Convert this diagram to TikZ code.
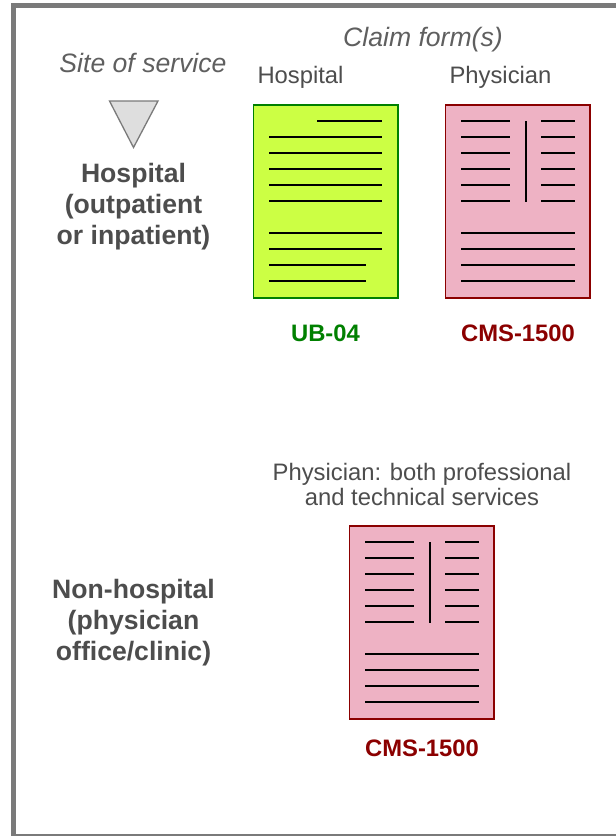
\documentclass[tikz,border=0pt]{standalone}
\usepackage{fontspec}
\setmainfont{Liberation Sans}
\definecolor{framegray}{RGB}{122,122,122}
\definecolor{txtgray}{RGB}{77,77,77}
\definecolor{italgray}{RGB}{95,95,95}
\definecolor{limefill}{RGB}{204,255,68}
\definecolor{formgreen}{RGB}{0,128,0}
\definecolor{pinkfill}{RGB}{238,178,196}
\definecolor{formred}{RGB}{139,0,0}
\tikzset{
  x=1pt,y=-1pt,
  sheet/.style={draw=#1,line width=1.6pt},
  rule/.style={draw=black,line width=1.5pt},
  head/.style={text=italgray,font=\fontsize{26.6}{30}\selectfont\itshape,inner sep=0pt,anchor=base},
  sub/.style={text=txtgray,font=\fontsize{23.8}{25}\selectfont,inner sep=0pt,align=center,anchor=base},
  site/.style={text=txtgray,font=\fontsize{26.6}{31}\selectfont\bfseries,inner sep=0pt,align=center},
  formlabel/.style={text=#1,font=\fontsize{23.8}{26}\selectfont\bfseries,inner sep=0pt,anchor=base},
  tri/.style={draw=framegray,fill=black!13,line width=1.3pt,line join=miter},
  pics/physform/.style={code={
    \draw[sheet=formred,fill=pinkfill] (0,0) rectangle (144.5,193);
    \foreach \y in {16,32,48,64,80,96}{
      \draw[rule] (15.5,\y) -- (64.5,\y);
      \draw[rule] (95.5,\y) -- (129.5,\y);
    }
    \draw[rule] (80.5,16) -- (80.5,97);
    \foreach \y in {128,144,160,176}{
      \draw[rule] (15.5,\y) -- (129.5,\y);
    }
    \draw[rule,line width=1.9pt] (80.5,128) -- (112.5,128);
  }}
}
\begin{document}
\begin{tikzpicture}
\useasboundingbox (0,0) rectangle (616,836);
\fill[white] (0,0) rectangle (616,836);
% frame
\fill[framegray] (11,3) rectangle (616,8);
\fill[framegray] (11,3) rectangle (16,836);
\fill[framegray] (11,834) rectangle (616,836);
% headers
\node[head] (sitehead) at (143,72.5) {Site of service};
\node[head] (claimhead) at (423,46) {Claim form(s)};
\node[sub] (hosphead) at (300.5,83.5) {Hospital};
\node[sub] (physhead) at (500.5,83.5) {Physician};
% triangle
\draw[tri] (109.5,101) -- (158,101) -- (133.5,147.5) -- cycle;
% site labels
\node[site] (sitehosp) at (133.5,207) {Hospital\\(outpatient\\or inpatient)};
\node[site] (sitenon) at (133.5,622.5) {Non-hospital\\(physician\\office/clinic)};
% hospital form
\begin{scope}[shift={(253.5,105)}]
  \draw[sheet=formgreen,fill=limefill] (0,0) rectangle (144.5,193);
  \draw[rule] (63.5,16) -- (128.5,16);
  \foreach \y in {32,48,64,80,96,128,144}{
    \draw[rule] (15.5,\y) -- (128.5,\y);
  }
  \foreach \y in {160,176}{
    \draw[rule] (15.5,\y) -- (112.5,\y);
  }
\end{scope}
% physician forms
\pic at (445.5,105) {physform};
\pic at (349.5,526) {physform};
% form labels
\node[formlabel=formgreen] (ub) at (325.5,341) {UB-04};
\node[formlabel=formred] (cmsa) at (518,341) {CMS-1500};
\node[formlabel=formred] (cmsb) at (422,756) {CMS-1500};
% caption
\node[sub,anchor=center] (both) at (422,484.5) {Physician: both professional\\and technical services};
\end{tikzpicture}
\end{document}
